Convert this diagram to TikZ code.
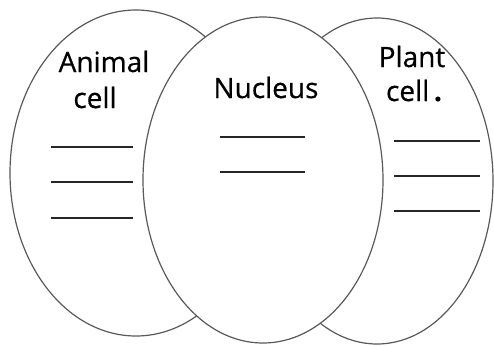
\documentclass[tikz,border=0pt]{standalone}
\usepackage{fontspec}
\setmainfont{Open Sans}
\newfontfamily\lblfont{Open Sans}[FakeBold=0.6]
\begin{document}
\begin{tikzpicture}[x=0.5pt,y=-0.5pt,
  cellring/.style={draw=black!65,line width=0.6pt},
  blank/.style={draw=black!85,line width=0.9pt},
  lbl/.style={font=\lblfont\fontsize{14}{16}\selectfont,anchor=base,inner sep=0pt}]
\useasboundingbox (0,0) rectangle (494,345);
% outer cells
\draw[cellring] (136,173) ellipse [x radius=63pt,y radius=81.5pt];
\draw[cellring] (377,181) ellipse [x radius=58pt,y radius=81.5pt];
% nucleus on top
\draw[cellring,fill=white] (263,180) ellipse [x radius=60pt,y radius=81.5pt];
% labels
\node[lbl] (an1) at (104,72) {Animal};
\node[lbl] (an2) at (95,108) {cell};
\node[lbl] (nuc) at (266,98) {Nucleus};
\node[lbl] (pl1) at (412,67) {Plant};
\node[lbl] (pl2) at (414,101) {cell\,\textbf{.}};
% blanks
\coordinate (a1l) at (51,147); \coordinate (a1r) at (133,147);
\coordinate (a2l) at (51,182); \coordinate (a2r) at (133,182);
\coordinate (a3l) at (51,218); \coordinate (a3r) at (133,218);
\coordinate (n1l) at (220,137); \coordinate (n1r) at (305,137);
\coordinate (n2l) at (220,172); \coordinate (n2r) at (305,172);
\coordinate (p1l) at (394,141); \coordinate (p1r) at (480,141);
\coordinate (p2l) at (394,176); \coordinate (p2r) at (480,176);
\coordinate (p3l) at (394,211); \coordinate (p3r) at (480,211);
\draw[blank] (a1l) -- (a1r);
\draw[blank] (a2l) -- (a2r);
\draw[blank] (a3l) -- (a3r);
\draw[blank] (n1l) -- (n1r);
\draw[blank] (n2l) -- (n2r);
\draw[blank] (p1l) -- (p1r);
\draw[blank] (p2l) -- (p2r);
\draw[blank] (p3l) -- (p3r);
\end{tikzpicture}
\end{document}
